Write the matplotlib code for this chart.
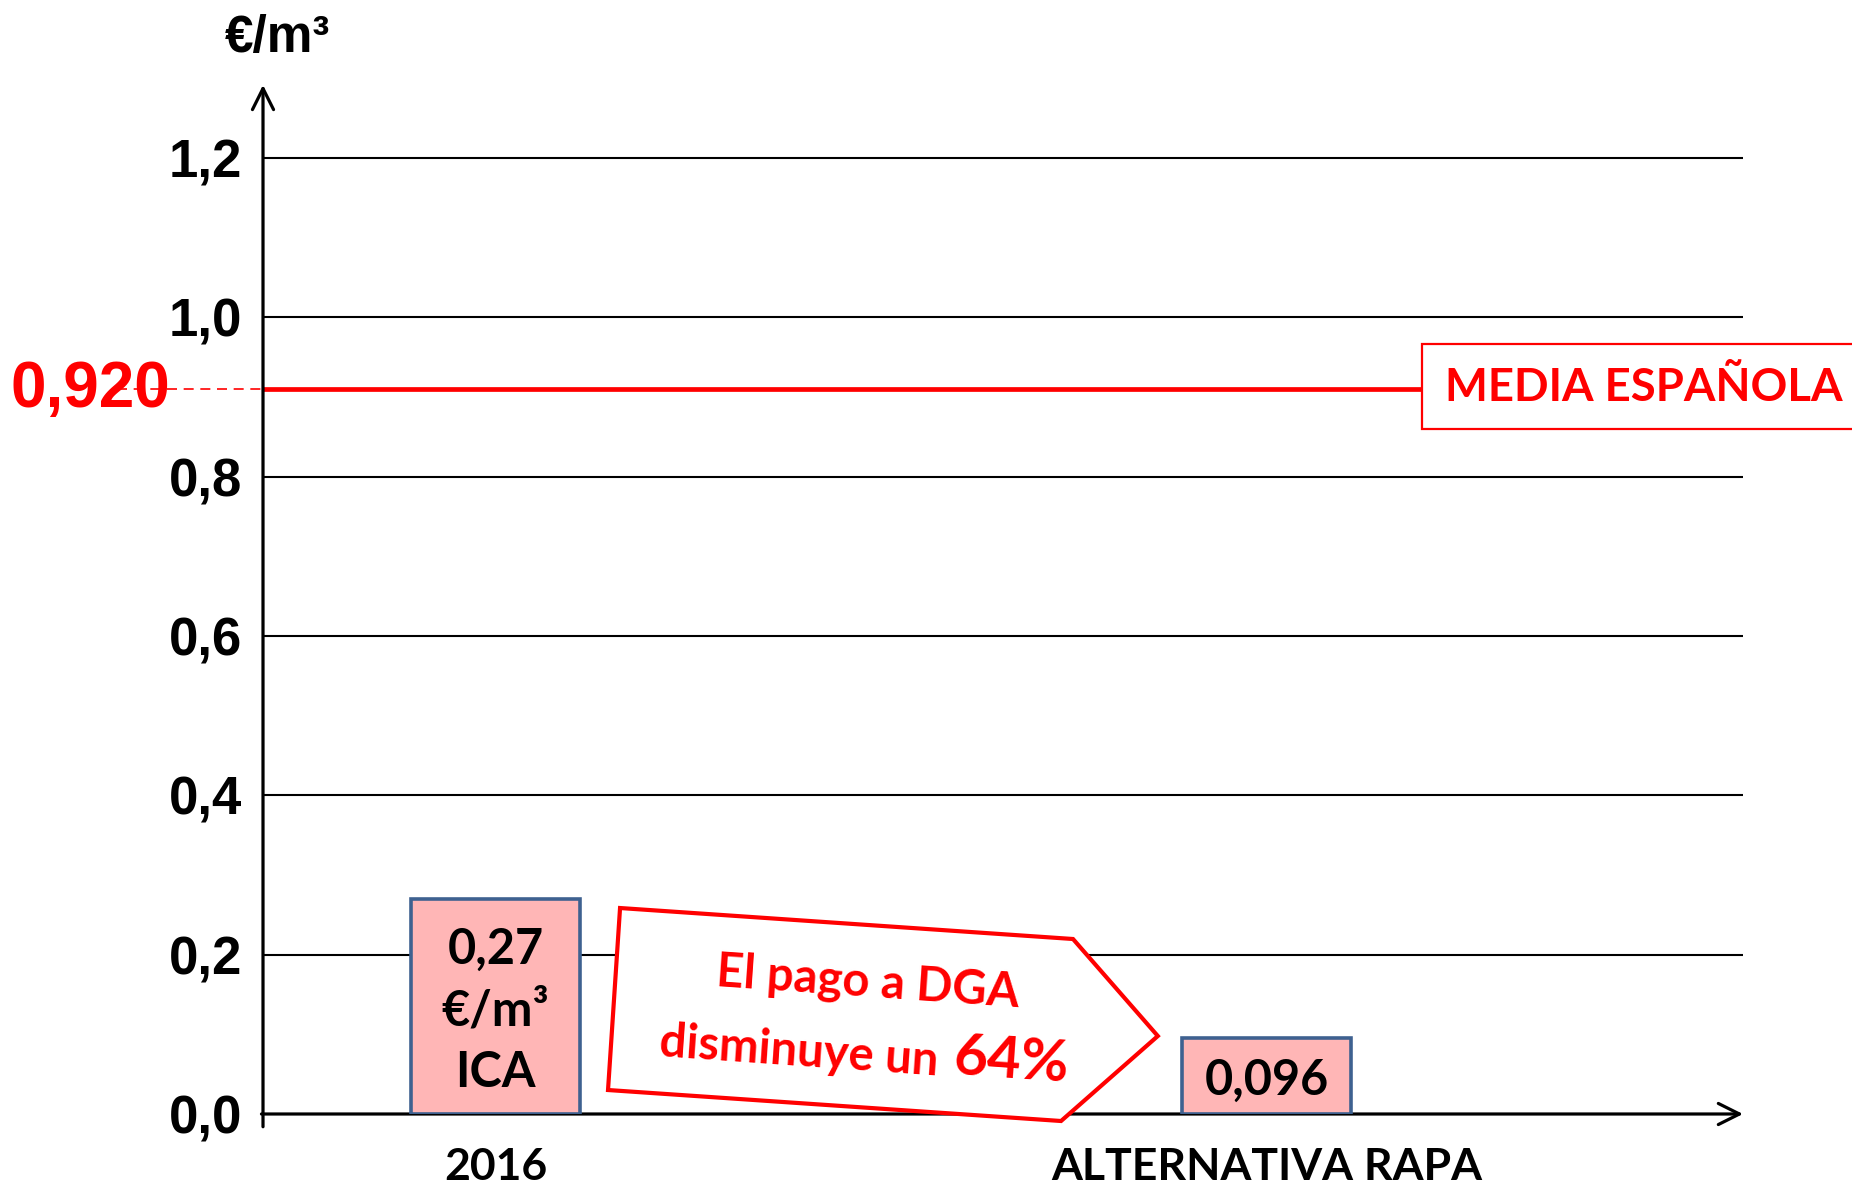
import matplotlib
matplotlib.use('Agg')
import matplotlib.pyplot as plt
from matplotlib.patches import Polygon, Rectangle

plt.rcParams['font.family'] = ['Lato', 'DejaVu Sans']

# data
categories = ['2016', 'ALTERNATIVA RAPA']
values = [0.27, 0.096]
bar_labels = ['0,27\n€/m³\nICA', '0,096']
media_value = 0.91
media_text = '0,920'
yticks = [0.0, 0.2, 0.4, 0.6, 0.8, 1.0, 1.2]
ytick_labels = ['0,0', '0,2', '0,4', '0,6', '0,8', '1,0', '1,2']

RED = '#FF0000'
BAR_FACE = '#FFB6B6'
BAR_EDGE = '#3E6190'
ARIAL = ['Liberation Sans', 'DejaVu Sans']

fig = plt.figure(figsize=(18.52, 11.89), dpi=100)
ax = fig.add_axes([0.14201, 0.06308, 0.79914, 0.87086])
xmin, xmax = -0.3016, 1.618
ax.set_xlim(xmin, xmax)
ax.set_ylim(0, 1.3)
for s in ax.spines.values():
    s.set_visible(False)

# gridlines
for y in yticks[1:]:
    ax.axhline(y, color='black', lw=1.5, zorder=1)

# axes with arrows
ax.annotate('', xy=(xmax, 0), xytext=(xmin - 0.002, 0), annotation_clip=False,
            arrowprops=dict(arrowstyle='->', lw=2.3, color='black', mutation_scale=38,
                            shrinkA=0, shrinkB=0), zorder=3)
ax.annotate('', xy=(xmin, 1.292), xytext=(xmin, -0.016), annotation_clip=False,
            arrowprops=dict(arrowstyle='->', lw=2.3, color='black', mutation_scale=38,
                            shrinkA=0, shrinkB=0), zorder=3)

ax.set_yticks(yticks)
ax.set_yticklabels(ytick_labels, fontfamily=ARIAL, fontweight='bold', fontsize=38)
ax.set_xticks(range(len(categories)))
ax.set_xticklabels(categories, fontweight='bold', fontsize=32)
ax.tick_params(axis='y', length=0, pad=15)
ax.tick_params(axis='x', length=0, pad=24)

ax.text(-0.283, 1.333, '€/m³', fontfamily=ARIAL, fontweight='bold', fontsize=37,
        ha='center', va='baseline', clip_on=False)

# bars
bars = ax.bar(range(len(values)), values, width=0.219, color=BAR_FACE,
              edgecolor=BAR_EDGE, linewidth=2.6, zorder=4)
for i, (v, lab) in enumerate(zip(values, bar_labels)):
    ax.text(i, v / 2 - 0.006, lab, ha='center', va='center', fontsize=35, fontweight='bold',
            linespacing=1.45, zorder=5)

# media española line
ax.plot([xmin, 1.2017], [media_value, media_value], color=RED, lw=3.4, zorder=2,
        solid_capstyle='butt')
ax.plot([-0.491, xmin], [media_value, media_value], color=RED, lw=1.2,
        ls=(0, (6, 4)), clip_on=False, zorder=2)
ax.text(-0.422, media_value - 0.001, media_text, color=RED, fontfamily=ARIAL,
        fontweight='bold', fontsize=46, ha='right', va='center', clip_on=False, zorder=1)
ax.add_patch(Rectangle((1.2017, 0.860), 0.6, 0.1067, facecolor='white', edgecolor=RED,
                       lw=1.6, clip_on=False, zorder=3))
ax.text(1.232, media_value + 0.001, 'MEDIA ESPAÑOLA', color=RED, fontsize=32.8,
        fontweight='bold', ha='left', va='center', clip_on=False, zorder=4)

# callout arrow
callout = [(0.1615, 0.2586), (0.749, 0.2197), (0.859, 0.0979),
           (0.7335, -0.0088), (0.1459, 0.0301)]
ax.add_patch(Polygon(callout, closed=True, facecolor='white', edgecolor=RED, lw=3,
                     joinstyle='miter', clip_on=False, zorder=5))
rot = -4
ax.text(0.4819, 0.1475, 'El pago a DGA', color=RED, fontsize=34, fontweight='bold',
        ha='center', va='baseline', rotation=rot, rotation_mode='anchor', zorder=6)
ax.text(0.392, 0.0603, 'disminuye un', color=RED, fontsize=34, fontweight='bold',
        ha='center', va='baseline', rotation=rot, rotation_mode='anchor', zorder=6)
ax.text(0.668, 0.0452, '64%', color=RED, fontsize=42, fontweight='bold',
        ha='center', va='baseline', rotation=rot, rotation_mode='anchor', zorder=6)

fig.savefig('out.png', dpi=100)
